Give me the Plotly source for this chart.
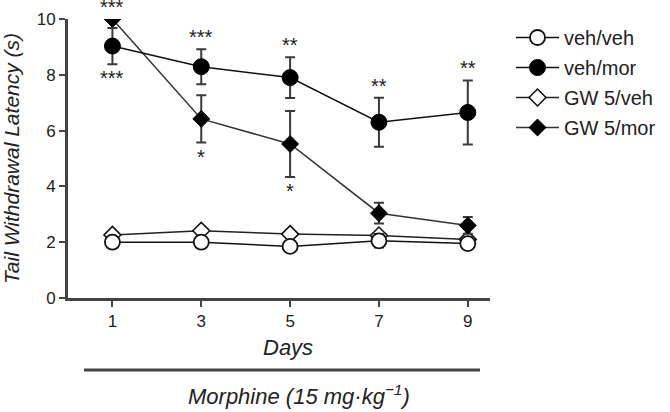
import plotly.graph_objects as go

days = [1, 3, 5, 7, 9]

veh_veh = [2.0, 2.0, 1.85, 2.05, 1.95]
veh_veh_err = [0.1, 0.1, 0.1, 0.25, 0.12]

veh_mor = [9.03, 8.29, 7.9, 6.3, 6.65]
veh_mor_err = [0.65, 0.63, 0.73, 0.88, 1.15]

gw_veh = [2.26, 2.41, 2.29, 2.24, 2.1]
gw_veh_err = [0.08, 0.08, 0.08, 0.1, 0.1]

gw_mor = [10.0, 6.42, 5.52, 3.04, 2.6]
gw_mor_err = [0.0, 0.85, 1.18, 0.37, 0.3]

# significance labels: (series, day index, side, text)
stars = [
    ("gw_mor", 0, "above", "***"),
    ("veh_mor", 0, "below", "***"),
    ("veh_mor", 1, "above", "***"),
    ("gw_mor", 1, "below", "*"),
    ("veh_mor", 2, "above", "**"),
    ("gw_mor", 2, "below", "*"),
    ("veh_mor", 3, "above", "**"),
    ("veh_mor", 4, "above", "**"),
]

series = {
    "veh_mor": (veh_mor, veh_mor_err),
    "gw_mor": (gw_mor, gw_mor_err),
}

FONT = "Liberation Sans, Arial, sans-serif"
ERRC = "#3a3a3a"

W, H = 670, 412
ML, MT, PW, PH = 68, 19, 422, 279

fig = go.Figure()

fig.add_trace(go.Scatter(
    x=days, y=gw_veh, name="GW 5/veh", legendrank=3, legendgroup="c",
    mode="lines+markers",
    line=dict(color="#222", width=1.5),
    marker=dict(symbol="diamond", size=13, color="white", line=dict(color="#111", width=1.6)),
    error_y=dict(type="data", array=gw_veh_err, color=ERRC, thickness=1.5, width=5),
))
fig.add_trace(go.Scatter(
    x=days, y=veh_veh, name="veh/veh", legendrank=1, legendgroup="a",
    mode="lines+markers",
    line=dict(color="#111", width=1.5),
    marker=dict(symbol="circle", size=15, color="white", line=dict(color="#111", width=1.8)),
    error_y=dict(type="data", array=veh_veh_err, color=ERRC, thickness=1.5, width=5),
))
fig.add_trace(go.Scatter(
    x=days, y=gw_mor, name="GW 5/mor", legendrank=4, legendgroup="d",
    mode="lines+markers",
    line=dict(color="#333", width=1.5),
    marker=dict(symbol="diamond", size=13, color="#000", line=dict(color="#000", width=1)),
    error_y=dict(type="data", array=gw_mor_err, color=ERRC, thickness=2, width=5),
))
fig.add_trace(go.Scatter(
    x=days, y=veh_mor, name="veh/mor", legendrank=2, legendgroup="b",
    mode="lines+markers",
    line=dict(color="#111", width=1.5),
    marker=dict(symbol="circle", size=16, color="#000", line=dict(color="#000", width=1)),
    error_y=dict(type="data", array=veh_mor_err, color=ERRC, thickness=2, width=5),
))

annotations = []
for key, i, side, txt in stars:
    vals, errs = series[key]
    if side == "above":
        y = vals[i] + errs[i]
        shift = 12
    else:
        y = vals[i] - errs[i]
        shift = -14
    annotations.append(dict(
        x=days[i], y=y, xref="x", yref="y", text=txt, showarrow=False,
        yanchor="middle", yshift=shift, font=dict(family=FONT, size=20, color="#222"),
    ))


def px_x(p):
    return (p - ML) / PW


def px_y(p):
    return (MT + PH - p) / PH


annotations.append(dict(
    x=px_x(288), y=px_y(347), xref="paper", yref="paper", text="<i>Days</i>",
    showarrow=False, xanchor="center", yanchor="middle",
    font=dict(family=FONT, size=22, color="#222"),
))
annotations.append(dict(
    x=px_x(299), y=px_y(395), xref="paper", yref="paper",
    text="<i>Morphine (15 mg·kg<sup>−1</sup>)</i>",
    showarrow=False, xanchor="center", yanchor="middle",
    font=dict(family=FONT, size=22, color="#222"),
))

fig.update_layout(
    width=W, height=H,
    margin=dict(l=ML, r=W - ML - PW, t=MT, b=H - MT - PH, autoexpand=False),
    paper_bgcolor="white", plot_bgcolor="white",
    font=dict(family=FONT, color="#222"),
    showlegend=True,
    legend=dict(
        xref="container", yref="container",
        x=511 / W, y=1 - 18 / H, xanchor="left", yanchor="top",
        font=dict(family=FONT, size=20, color="#222"),
        bgcolor="rgba(0,0,0,0)", tracegroupgap=1, itemwidth=43,
    ),
    annotations=annotations,
    shapes=[dict(
        type="line", xref="paper", yref="paper",
        x0=px_x(84), x1=px_x(480), y0=px_y(370), y1=px_y(370),
        line=dict(color="#444", width=3),
    )],
)

fig.update_xaxes(
    range=[0, 9.5], tickvals=days, ticktext=[str(d) for d in days],
    showgrid=False, zeroline=False, automargin=False,
    showline=True, linecolor="#444", linewidth=3,
    ticks="outside", ticklen=6, tickwidth=2, tickcolor="#444",
    tickfont=dict(family=FONT, size=17, color="#222"),
)
fig.update_yaxes(
    range=[0, 10], tickvals=[0, 2, 4, 6, 8, 10],
    showgrid=False, zeroline=False, automargin=False,
    showline=True, linecolor="#444", linewidth=3,
    ticks="outside", ticklen=6, tickwidth=2, tickcolor="#444",
    tickfont=dict(family=FONT, size=17, color="#222"),
    title=dict(text="<i>Tail Withdrawal Latency (s)</i>", standoff=14,
               font=dict(family=FONT, size=21, color="#222")),
)

fig.write_html(
    "out.html",
    config={"displayModeBar": False},
    post_script="document.body.style.margin='0px';",
)
